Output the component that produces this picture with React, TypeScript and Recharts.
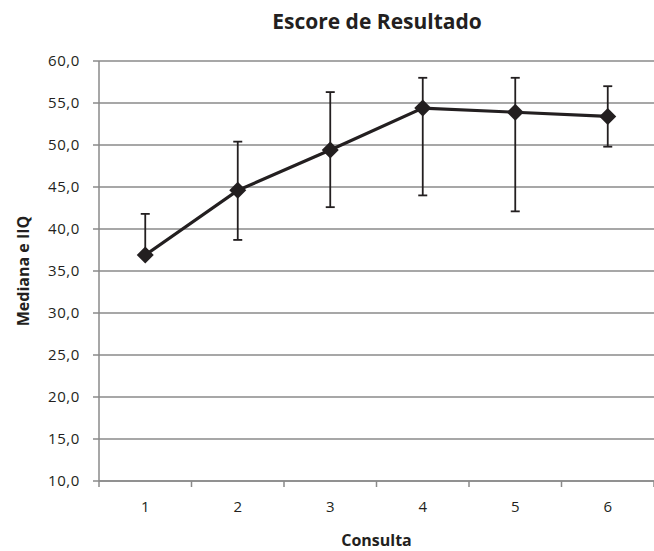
import React from "react";
import { LineChart, Line, XAxis, YAxis, CartesianGrid, ErrorBar } from "recharts";

// valores: mediana e intervalo interquartil por consulta
const consultas = [1, 2, 3, 4, 5, 6];
const mediana = [36.9, 44.6, 49.4, 54.4, 53.9, 53.4];
const q1 = [36.9, 38.7, 42.6, 44.0, 42.1, 49.8];
const q3 = [41.8, 50.4, 56.3, 58.0, 58.0, 57.0];
const yTicks = [10, 15, 20, 25, 30, 35, 40, 45, 50, 55, 60];
// meias posições = marcas entre categorias, inteiros = rótulos
const xTicks = [0.5, 1, 1.5, 2, 2.5, 3, 3.5, 4, 4.5, 5, 5.5, 6, 6.5];

const data = consultas.map((c, i) => ({
  consulta: c,
  mediana: mediana[i],
  iiq: [mediana[i] - q1[i], q3[i] - mediana[i]],
}));

const INK = "#231f20";
const GRID = "#8a8a8a";
const FONT = "'Open Sans', sans-serif";

const Diamond = (props: any) => {
  const { cx, cy, index } = props;
  if (cx == null || cy == null) return null;
  const r = 8.5;
  return (
    <polygon
      key={`d-${index}`}
      points={`${cx},${cy - r} ${cx + r},${cy} ${cx},${cy + r} ${cx - r},${cy}`}
      fill={INK}
    />
  );
};

const XTick = (props: any) => {
  const { x, y, payload } = props;
  const v = payload.value;
  if (Number.isInteger(v)) {
    return (
      <text x={x} y={y + 25} textAnchor="middle" fill={INK} fontSize={15} fontFamily={FONT}>
        {v}
      </text>
    );
  }
  return <line x1={x} x2={x} y1={y - 6} y2={y} stroke={GRID} strokeWidth={1.5} />;
};

const App = () => {
  return (
    <div style={{ position: "relative", width: 654, height: 551, fontFamily: FONT }}>
      <style>{`body{margin:0}`}</style>
      <div
        style={{
          position: "absolute",
          left: 227,
          top: 11,
          width: 300,
          textAlign: "center",
          fontSize: 21,
          lineHeight: "21px",
          fontWeight: 700,
          color: INK,
        }}
      >
        Escore de Resultado
      </div>
      <LineChart
        width={654}
        height={551}
        data={data}
        margin={{ top: 61, right: 0, bottom: 0, left: 0 }}
      >
        <CartesianGrid vertical={false} stroke={GRID} strokeWidth={1.5} />
        <XAxis
          type="number"
          dataKey="consulta"
          domain={[0.5, 6.5]}
          ticks={xTicks}
          interval={0}
          tick={<XTick />}
          tickLine={false}
          tickSize={6}
          tickMargin={0}
          height={70}
          axisLine={{ stroke: GRID, strokeWidth: 1.5 }}
          label={{
            value: "Consulta",
            position: "insideBottom",
            offset: 5,
            fill: INK,
            fontSize: 16,
            fontWeight: 700,
            fontFamily: FONT,
          }}
        />
        <YAxis
          domain={[10, 60]}
          ticks={yTicks}
          interval={0}
          width={99}
          tickSize={6}
          tickMargin={13}
          tickFormatter={(v: number) => v.toFixed(1).replace(".", ",")}
          tick={{ fill: INK, fontSize: 15, fontFamily: FONT, letterSpacing: 0.6 }}
          tickLine={{ stroke: GRID, strokeWidth: 1.5 }}
          axisLine={{ stroke: GRID, strokeWidth: 1.5 }}
          label={{
            value: "Mediana e IIQ",
            angle: -90,
            position: "insideLeft",
            offset: 23,
            fill: INK,
            fontSize: 16,
            fontWeight: 700,
            fontFamily: FONT,
            style: { textAnchor: "middle" },
          }}
        />
        <Line
          type="linear"
          dataKey="mediana"
          stroke={INK}
          strokeWidth={3.2}
          dot={(p: any) => <Diamond {...p} key={`dot-${p.index}`} />}
          activeDot={false}
          isAnimationActive={false}
        >
          <ErrorBar
            dataKey="iiq"
            direction="y"
            width={4.5}
            stroke={INK}
            strokeWidth={1.8}
            isAnimationActive={false}
          />
        </Line>
      </LineChart>
    </div>
  );
};

export default App;
